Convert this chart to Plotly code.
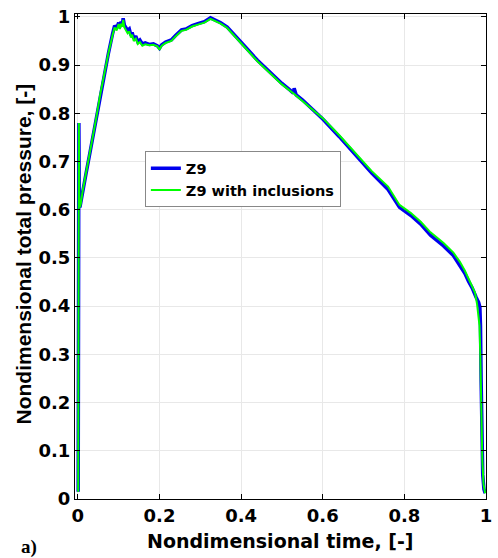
import plotly.graph_objects as go

# Z9 (blue)
t_z9 = [0.0008, 0.0015, 0.0025, 0.0035, 0.005, 0.007, 0.012, 0.02, 0.03, 0.045, 0.055, 0.065, 0.075,
        0.085, 0.09, 0.095, 0.1, 0.103, 0.106, 0.109, 0.111, 0.114, 0.118, 0.122, 0.126, 0.13, 0.133,
        0.137, 0.142, 0.147, 0.152, 0.158, 0.165, 0.175, 0.185, 0.195, 0.2, 0.205, 0.215, 0.229, 0.24,
        0.254, 0.265, 0.28, 0.294, 0.31, 0.325, 0.335, 0.35, 0.366, 0.385, 0.41, 0.44, 0.47, 0.5, 0.52,
        0.528, 0.53, 0.535, 0.55, 0.575, 0.6, 0.64, 0.687, 0.72, 0.76, 0.788, 0.816, 0.84, 0.864, 0.896,
        0.92, 0.936, 0.948, 0.957, 0.966, 0.976, 0.982, 0.985, 0.9865, 0.988, 0.99, 0.992, 0.995, 0.998]
p_z9 = [0.015, 0.40, 0.78, 0.62, 0.605, 0.615, 0.64, 0.675, 0.72, 0.79, 0.84, 0.885, 0.925,
        0.965, 0.982, 0.976, 0.988, 0.979, 0.990, 0.984, 0.997, 0.983, 0.978, 0.972, 0.975, 0.962, 0.968,
        0.955, 0.960, 0.948, 0.952, 0.944, 0.946, 0.943, 0.944, 0.940, 0.935, 0.942, 0.948, 0.952, 0.962,
        0.973, 0.975, 0.982, 0.986, 0.990, 0.998, 0.994, 0.988, 0.979, 0.962, 0.938, 0.91, 0.885, 0.862, 0.848,
        0.842, 0.852, 0.838, 0.828, 0.808, 0.788, 0.752, 0.708, 0.676, 0.642, 0.605, 0.588, 0.570, 0.547, 0.525,
        0.505, 0.485, 0.468, 0.452, 0.438, 0.418, 0.408, 0.398, 0.36, 0.25, 0.10, 0.05, 0.02, 0.012]

# Z9 with inclusions (green)
t_inc = [0.0008, 0.0015, 0.0025, 0.0035, 0.005, 0.007, 0.012, 0.02, 0.03, 0.045, 0.055, 0.065, 0.075,
         0.085, 0.09, 0.095, 0.1, 0.103, 0.106, 0.109, 0.111, 0.114, 0.118, 0.122, 0.126, 0.13, 0.133,
         0.137, 0.142, 0.147, 0.152, 0.158, 0.165, 0.175, 0.185, 0.195, 0.2, 0.205, 0.215, 0.229, 0.24,
         0.254, 0.265, 0.28, 0.294, 0.31, 0.325, 0.335, 0.35, 0.366, 0.385, 0.41, 0.44, 0.47, 0.5, 0.53,
         0.55, 0.575, 0.6, 0.64, 0.687, 0.72, 0.76, 0.788, 0.816, 0.84, 0.864, 0.896,
         0.92, 0.936, 0.948, 0.957, 0.966, 0.973, 0.978, 0.981, 0.984, 0.986, 0.988, 0.991, 0.994, 0.998]
p_inc = [0.015, 0.40, 0.78, 0.62, 0.605, 0.612, 0.64, 0.675, 0.72, 0.79, 0.84, 0.885, 0.925,
         0.962, 0.978, 0.972, 0.985, 0.975, 0.986, 0.980, 0.994, 0.978, 0.972, 0.966, 0.970, 0.957, 0.963,
         0.950, 0.955, 0.944, 0.948, 0.940, 0.943, 0.941, 0.942, 0.939, 0.932, 0.940, 0.946, 0.950, 0.960,
         0.971, 0.973, 0.980, 0.984, 0.988, 0.996, 0.992, 0.986, 0.977, 0.960, 0.936, 0.908, 0.883, 0.860, 0.840,
         0.826, 0.808, 0.790, 0.755, 0.712, 0.680, 0.648, 0.610, 0.593, 0.575, 0.553, 0.531,
         0.511, 0.492, 0.474, 0.458, 0.442, 0.428, 0.405, 0.385, 0.36, 0.30, 0.20, 0.08, 0.03, 0.012]

x_ticks = [0, 0.2, 0.4, 0.6, 0.8, 1]
x_ticklabels = ["0", "0.2", "0.4", "0.6", "0.8", "1"]
y_ticks = [0, 0.1, 0.2, 0.3, 0.4, 0.5, 0.6, 0.7, 0.8, 0.9, 1]
y_ticklabels = ["0", "0.1", "0.2", "0.3", "0.4", "0.5", "0.6", "0.7", "0.8", "0.9", "1"]

FONT = "DejaVu Sans"
ARIAL = "Liberation Sans, Arial"

fig = go.Figure()
fig.add_trace(go.Scatter(x=t_z9, y=p_z9, mode="lines", name="Z9",
                         line=dict(color="#0000ee", width=3.5)))
fig.add_trace(go.Scatter(x=t_inc, y=p_inc, mode="lines", name="Z9 with inclusions",
                         line=dict(color="#00ff00", width=2)))

axis_common = dict(showline=True, linecolor="black", linewidth=1, mirror="ticks",
                   ticks="inside", ticklen=5, tickcolor="black",
                   showgrid=True, gridcolor="#e8e8e8", gridwidth=1, zeroline=False,
                   tickfont=dict(family=FONT, size=18, color="black", weight="bold"))

fig.update_xaxes(range=[-0.007, 1.0], tickvals=x_ticks, ticktext=x_ticklabels, **axis_common)
fig.update_yaxes(range=[0, 1.006], tickvals=y_ticks, ticktext=y_ticklabels, **axis_common)

fig.update_layout(
    width=498, height=558,
    margin=dict(l=75, r=6, t=12, b=59),
    paper_bgcolor="white", plot_bgcolor="white",
    showlegend=True,
    legend=dict(x=0.17, y=0.717, xanchor="left", yanchor="top",
                bgcolor="white", bordercolor="#888888", borderwidth=1,
                font=dict(family=FONT, size=14.5, color="black", weight="bold"),
                tracegroupgap=0, itemwidth=30),
    annotations=[
        dict(text="<b>Nondimensional time, [-]</b>", xref="paper", yref="paper",
             x=0.5, y=0, yshift=-42, xanchor="center", yanchor="middle", showarrow=False,
             font=dict(family=FONT, size=19, color="black")),
        dict(text="<b>Nondimensional total pressure, [-]</b>", xref="paper", yref="paper",
             x=0, xshift=-52, y=0.5, yshift=2, xanchor="center", yanchor="middle", textangle=-90, showarrow=False,
             font=dict(family=ARIAL, size=21, color="black")),
        dict(text="<b>a)</b>", xref="paper", yref="paper",
             x=0, xshift=-46, y=0, yshift=-48, xanchor="center", yanchor="middle", showarrow=False,
             font=dict(family="Liberation Serif, Times New Roman", size=19, color="black")),
    ],
)

fig.write_html("out.html")
